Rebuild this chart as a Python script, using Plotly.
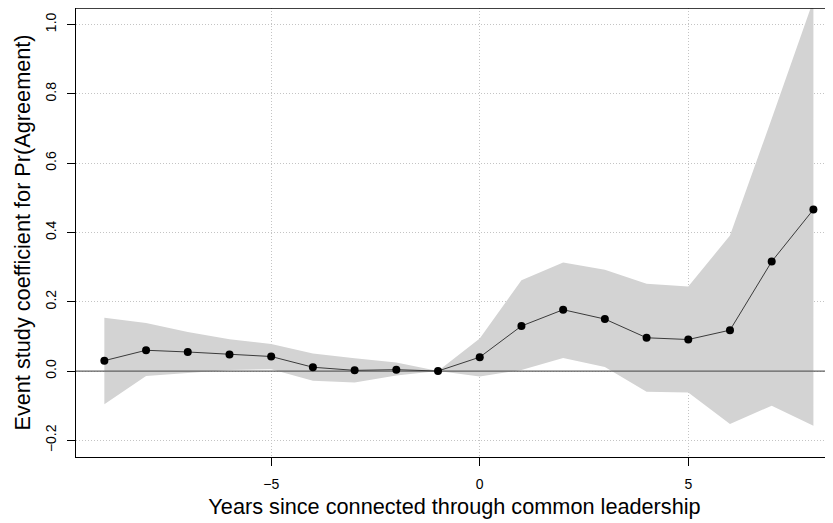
import plotly.graph_objects as go

years = [-9, -8, -7, -6, -5, -4, -3, -2, -1, 0, 1, 2, 3, 4, 5, 6, 7, 8]
coef = [0.030, 0.060, 0.055, 0.048, 0.042, 0.011, 0.002, 0.004, 0.0,
        0.040, 0.130, 0.177, 0.150, 0.096, 0.091, 0.118, 0.316, 0.466]
upper = [0.154, 0.139, 0.113, 0.092, 0.078, 0.051, 0.037, 0.025, 0.0,
         0.094, 0.262, 0.313, 0.292, 0.252, 0.244, 0.391, 0.728, 1.07]
lower = [-0.096, -0.014, -0.005, 0.003, 0.005, -0.028, -0.033, -0.013, 0.0,
         -0.016, 0.003, 0.038, 0.012, -0.060, -0.062, -0.153, -0.100, -0.158]

x_ticks = [-5, 0, 5]
y_ticks = [-0.2, 0.0, 0.2, 0.4, 0.6, 0.8, 1.0]
y_tick_text = ["\u22120.2", "0.0", "0.2", "0.4", "0.6", "0.8", "1.0"]
x_tick_text = ["\u22125", "0", "5"]
x_range = [-9.68, 8.47]
y_range = [-0.248, 1.0476]

FONT = "Liberation Sans, Arial, Helvetica, sans-serif"
GRID_DASH = "1px,2px"

fig = go.Figure()

# confidence band
fig.add_trace(go.Scatter(
    x=years + years[::-1],
    y=upper + lower[::-1],
    fill="toself", fillcolor="#d3d3d3",
    line=dict(width=0, color="#d3d3d3"),
    mode="lines", hoverinfo="skip", showlegend=False,
))

# zero reference line
fig.add_trace(go.Scatter(
    x=x_range, y=[0, 0], mode="lines",
    line=dict(color="#606060", width=1.2),
    hoverinfo="skip", showlegend=False,
))

# point estimates
fig.add_trace(go.Scatter(
    x=years, y=coef, mode="lines+markers",
    line=dict(color="#3a3a3a", width=1),
    marker=dict(color="black", size=8),
    showlegend=False,
))

# top frame edge (box around plot region)
fig.add_shape(type="line", xref="paper", yref="paper",
              x0=0, x1=1, y0=1, y1=1,
              line=dict(color="black", width=1.5), layer="above")

fig.update_layout(
    width=825, height=515,
    margin=dict(l=68, r=0, t=0, b=66),
    plot_bgcolor="white", paper_bgcolor="white",
    font=dict(family=FONT, color="black"),
    xaxis=dict(
        range=x_range, tickvals=x_ticks, ticktext=x_tick_text,
        automargin=False,
        showgrid=True, gridcolor="#c4c4c4", griddash=GRID_DASH, gridwidth=1,
        zeroline=False, showline=True, linecolor="black", linewidth=1,
        mirror=True, ticks="outside", ticklen=8, tickcolor="black",
        tickfont=dict(size=14, family=FONT), ticklabelstandoff=6,
        title=dict(text="Years since connected through common leadership",
                   font=dict(size=21.7, family=FONT), standoff=8),
    ),
    yaxis=dict(
        range=y_range, tickvals=y_ticks, ticktext=y_tick_text,
        automargin=False,
        showgrid=True, gridcolor="#c4c4c4", griddash=GRID_DASH, gridwidth=1,
        zeroline=False, showline=True, linecolor="black", linewidth=1,
        mirror=False, ticks="outside", ticklen=8, tickcolor="black",
        tickangle=-90,
        tickfont=dict(size=14, family=FONT), ticklabelstandoff=5,
        title=dict(text="Event study coefficient for Pr(Agreement)",
                   font=dict(size=21.7, family=FONT), standoff=6),
    ),
)

fig.write_html("out.html")
